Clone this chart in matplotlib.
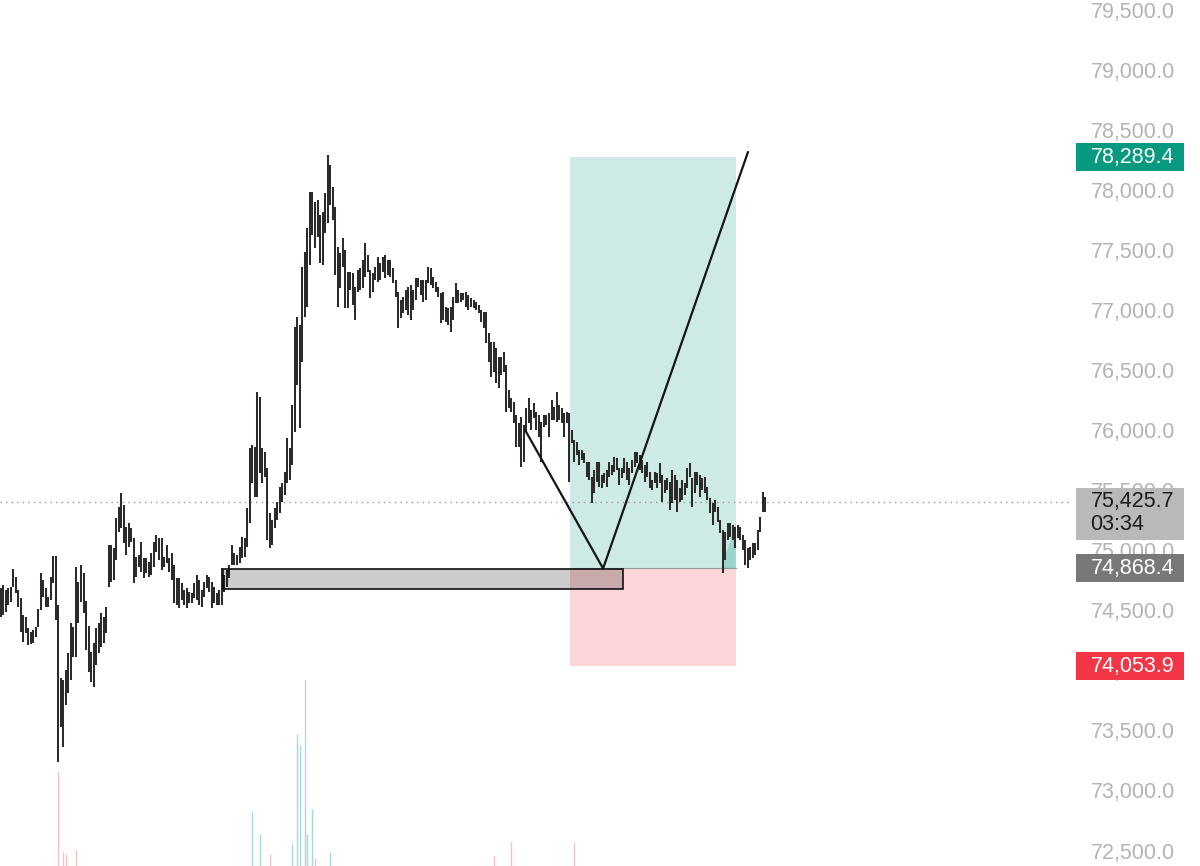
import numpy as np
import matplotlib
matplotlib.use("Agg")
import matplotlib.pyplot as plt
import matplotlib.transforms as mtransforms
from matplotlib.patches import Rectangle, Polygon

plt.rcParams['font.family'] = ['Liberation Sans', 'DejaVu Sans']

# bar highs / lows (price), one bar per time step
highs = [
    74706, 74731, 74689, 74706, 74714, 74864, 74797, 74689, 74622, 74481,
    74464, 74373, 74339, 74356, 74381, 74531, 74831, 74772, 74706, 74631,
    74797, 74972, 74972, 74564, 73957, 73940, 74023, 74165, 74414, 74381,
    74881, 74756, 74897, 74831, 74598, 74389, 74173, 74248, 74373, 74414,
    74498, 74464, 74548, 75064, 75064, 75039, 75288, 75380, 75496, 75397,
    75213, 75247, 75205, 75122, 74964, 74980, 75089, 74955, 74955, 74922,
    74997, 75089, 75147,
    75122, 75122, 74964, 75064, 74955, 74997, 74897, 74789, 74789, 74747,
    74689, 74706, 74672, 74664, 74747, 74814, 74772, 74689, 74756, 74814,
    74797, 74756, 74714, 74664, 74689, 74872, 74814, 74856, 74897, 75064,
    74997, 74980, 75047, 75130, 75122, 75372, 75871, 75896, 75879, 76337,
    76296, 75871, 75838, 75705, 75330, 75272, 75372, 75422, 75546, 75580,
    75671, 75954, 75871, 76229, 76878, 76961, 76895, 77378, 77502, 77702,
    78002, 78002, 77919,
    77935, 77810, 77835, 77994, 78310, 78227, 78043, 77877, 77544, 77494,
    77619, 77519, 77336, 77336, 77328, 77211, 77353, 77369, 77436, 77577,
    77477, 77353, 77328, 77378, 77461, 77411, 77461, 77477, 77436, 77436,
    77369, 77269, 77170, 77103, 77128, 77186, 77211, 77228, 77186, 77286,
    77286, 77269, 77269, 77269, 77378, 77369, 77294, 77253, 77211, 77161,
    77170, 77045, 77036, 77045, 77128, 77244, 77186, 77161, 77161, 77170,
    77145,
    77120, 77103, 77086, 77061, 77020, 77003, 77003, 76828, 76753, 76753,
    76703, 76628, 76628, 76670, 76562, 76354, 76287, 76254, 76146, 76079,
    76129, 76062, 76204, 76287, 76187, 76246, 76171, 76146, 76087, 76146,
    76146, 76162, 76271, 76212, 76337, 76229, 76204, 76162, 76171, 76162,
    76021, 75938, 75921, 75854, 75854, 75829, 75754, 75754, 75630, 75688,
    75754, 75754, 75646, 75663, 75688,
    75754, 75730, 75796, 75788, 75705, 75705, 75788, 75754, 75705, 75771,
    75838, 75838, 75813, 75771, 75730, 75754, 75671, 75605, 75671, 75663,
    75746, 75646, 75605, 75621, 75588, 75688, 75646, 75605, 75538, 75605,
    75580, 75705, 75746, 75621, 75671, 75671, 75646, 75621, 75630, 75546,
    75455, 75413, 75438, 75380, 75272, 75188, 75172, 75247, 75247, 75230,
    75213, 75230, 75213, 75147, 75105, 75039, 75047, 75080, 75080, 75188,
    75297, 75505, 75463,
]
lows = [
    74464, 74481, 74506, 74564, 74589, 74714, 74664, 74548, 74339, 74256,
    74331, 74231, 74240, 74248, 74298, 74381, 74523, 74631, 74548, 74548,
    74606, 74747, 74439, 73257, 73549, 73382, 73732, 73832, 73940, 74131,
    74131, 74414, 74589, 74498, 74190, 74007, 73923, 73882, 74065, 74165,
    74215, 74248, 74331, 74714, 74756, 74772, 74939, 75172, 75205, 75080,
    74980, 75047, 75089, 74747, 74797, 74881, 74839, 74789, 74831, 74797,
    74814, 74881, 75005,
    74939, 74856, 74881, 74914, 74839, 74772, 74581, 74564, 74539, 74606,
    74564, 74539, 74581, 74581, 74622, 74606, 74564, 74548, 74631, 74706,
    74672, 74539, 74581, 74564, 74564, 74564, 74672, 74714, 74789, 74897,
    74897, 74897, 74914, 74955, 74964, 75047, 75247, 75580, 75463, 75463,
    75663, 75580, 75630, 75105, 75039, 75064, 75205, 75272, 75330, 75422,
    75480, 75580, 75605, 75730, 76004, 76395, 76037, 76587, 76961, 77045,
    77394, 77644, 77536,
    77627, 77411, 77394, 77661, 77744, 77894, 77769, 77311, 77045, 77203,
    77378, 77036, 77036, 77186, 77061, 76936, 77170, 77186, 77203, 77294,
    77336, 77120, 77170, 77269, 77253, 77269, 77336, 77286, 77311, 77294,
    77244, 77128, 76870, 76953, 76995, 77020, 76978, 76936, 77020, 77103,
    77211, 77145, 77086, 77103, 77244, 77228, 77203, 77170, 77128, 76911,
    76936, 76920, 76895, 76837, 76936, 77078, 77078, 77086, 77103, 77045,
    77020,
    77045, 77036, 77020, 76995, 76920, 76870, 76745, 76587, 76462, 76504,
    76412, 76370, 76479, 76504, 76171, 76204, 76171, 76079, 75879, 75879,
    75713, 75754, 76004, 76079, 76021, 76121, 76021, 75963, 75754, 76046,
    76062, 75963, 76104, 76104, 76087, 76104, 76079, 75963, 76079, 75588,
    75913, 75754, 75813, 75730, 75771, 75746, 75630, 75605, 75413, 75496,
    75588, 75546, 75538, 75580, 75546,
    75630, 75646, 75671, 75688, 75563, 75621, 75663, 75605, 75563, 75663,
    75713, 75746, 75688, 75663, 75588, 75630, 75538, 75521, 75580, 75538,
    75580, 75422, 75496, 75521, 75355, 75413, 75438, 75338, 75422, 75438,
    75480, 75538, 75630, 75380, 75496, 75563, 75463, 75521, 75496, 75438,
    75330, 75230, 75338, 75255, 75163, 74831, 74939, 75105, 75130, 75105,
    75039, 75122, 75105, 75022, 74897, 74872, 74939, 74955, 74980, 75022,
    75172, 75338, 75338,
]

# volume (only the visible bars)
vol_idx = [23, 25, 26, 30, 100, 103, 107, 116, 118, 119, 121, 122, 124, 125, 131, 196, 203, 228]
vol_val = [475, 70, 60, 80, 275, 160, 60, 110, 660, 605, 930, 160, 285, 40, 70, 50, 120, 120]
vol_up = [0, 0, 0, 0, 1, 1, 0, 1, 1, 1, 1, 1, 1, 0, 1, 0, 0, 0]

price_ticks = [79500, 79000, 78500, 78000, 77500, 77000, 76500, 76000,
               75500, 75000, 74500, 74000, 73500, 73000, 72500]

# long position tool
entry = 74868.4
target = 78289.4
stop = 74053.9
pos_start, pos_end = 226.4, 292.3
last_price = 75425.7
countdown = "03:34"

# zone box and drawn path
zone_start, zone_end = 88.4, 247.4
zone_top, zone_bot = 74864, 74697
path_x = [208.5, 239.5, 297.1]
path_y = [76021, 74868.4, 78335]

fig = plt.figure(figsize=(12, 8.66), dpi=100)
ax = fig.add_axes([0, 0, 1, 1])
ax.set_xlim(-0.2, 476.75)
ax.set_ylim(72392, 79600)
ax.axis('off')

vax = fig.add_axes([0, 0, 1, 1])
vax.set_xlim(-0.2, 476.75)
vax.set_ylim(0, 4330)
vax.axis('off')
vax.patch.set_alpha(0)
vcol = ['#a6d8dc' if u else '#f5c2c7' for u in vol_up]
vax.vlines(vol_idx, 0, vol_val, colors=vcol, linewidth=1.0)

x = np.arange(len(highs))
ax.vlines(x, lows, highs, colors='#2b2b2b', linewidth=1.45, zorder=5)

# position areas
ax.add_patch(Rectangle((pos_start, entry), pos_end - pos_start, target - entry,
                       facecolor='#089981', alpha=0.2, lw=0, zorder=1))
ax.add_patch(Rectangle((pos_start, stop), pos_end - pos_start, entry - stop,
                       facecolor='#f23645', alpha=0.2, lw=0, zorder=1))
ax.plot([pos_start, pos_end], [entry, entry], color='#9a9a9a', lw=0.8, zorder=2)
ax.add_patch(Polygon([(286.5, entry), (pos_end, 75250), (pos_end, entry)],
                     closed=True, facecolor='#089981', alpha=0.25, lw=0, zorder=2))

# zone box
ax.add_patch(Rectangle((zone_start, zone_bot), zone_end - zone_start, zone_top - zone_bot,
                       facecolor=(0, 0, 0, 0.2), edgecolor='#111111', lw=1.2, zorder=6))

ax.plot(path_x, path_y, color='#151515', lw=1.6, zorder=7, solid_capstyle='round')

# last price dotted line
ax.plot([-0.2, 426], [last_price, last_price], color='#9a9a9a', lw=1.0,
        linestyle=(0, (1, 3)), zorder=3)

# price scale
tr = mtransforms.blended_transform_factory(ax.transAxes, ax.transData)
for p in price_ticks:
    ax.text(0.979, p, f"{p:,.1f}", transform=tr, ha='right', va='center',
            fontsize=15.5, color='#b4b4b4', zorder=8)

ppx = (79600 - 72392) / 866.0
bx, bw = 1076 / 1200, 108 / 1200


def price_box(price, color, txtcolor, h_top=14, h_bot=14):
    ax.add_patch(Rectangle((bx, price - h_bot * ppx), bw, (h_top + h_bot) * ppx,
                           transform=tr, facecolor=color, lw=0, zorder=9))
    ax.text(0.979, price, f"{price:,.1f}", transform=tr, ha='right', va='center',
            fontsize=15.5, color=txtcolor, zorder=10)


price_box(target, '#089981', 'white')
price_box(entry, '#787878', 'white')
price_box(stop, '#f23645', 'white')
price_box(last_price, '#b9b9b9', '#1c1c1c', h_top=14, h_bot=38)
ax.text(1090 / 1200, last_price - 23 * ppx, countdown, transform=tr, ha='left',
        va='center', fontsize=15.5, color='#1c1c1c', zorder=10)

fig.savefig('out.png', dpi=100)
